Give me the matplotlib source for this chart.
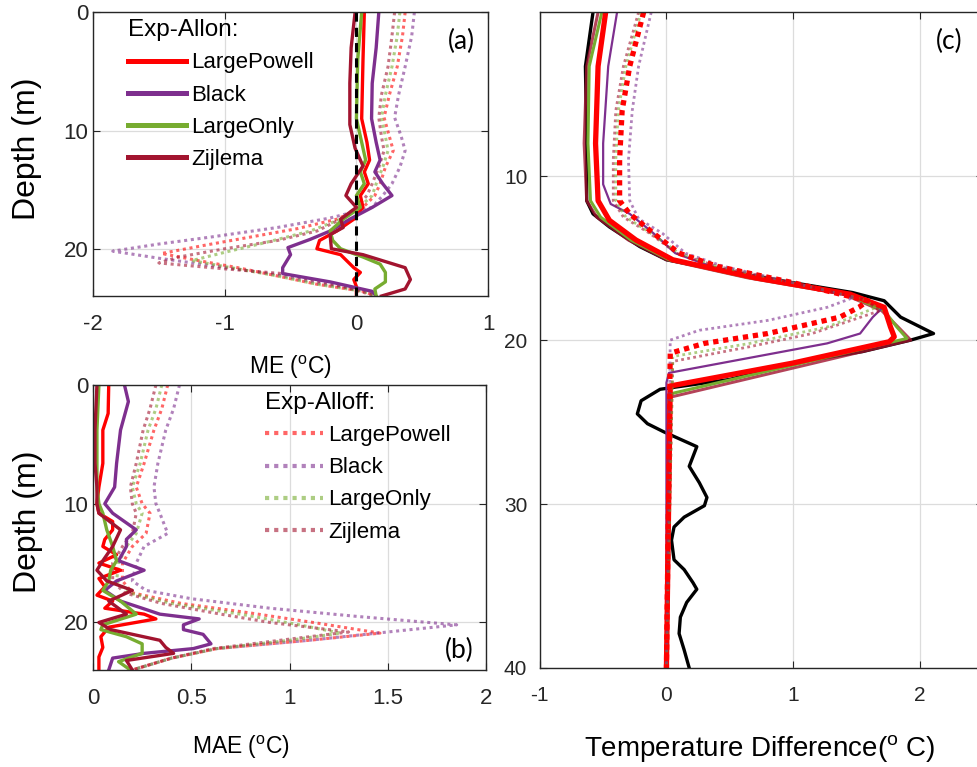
import matplotlib
matplotlib.use("Agg")
import matplotlib.pyplot as plt
from matplotlib.lines import Line2D

plt.rcParams['font.family'] = ['Liberation Sans', 'DejaVu Sans']
plt.rcParams['axes.unicode_minus'] = False
plt.rcParams['mathtext.fontset'] = 'custom'
plt.rcParams['mathtext.rm'] = 'Liberation Sans'

schemes = ['LargePowell', 'Black', 'LargeOnly', 'Zijlema']
colors = ['#FF0000', '#7E2F8E', '#77AC30', '#A2142F']

# ---- panel (a): mean error, Exp-Allon (solid) ----
me_on_lp_d = [0, 4, 9, 11, 12.5, 13.5, 14.5, 15.5, 16.5, 17.5, 18.5, 19.3, 20, 20.5, 21.6, 22, 22.6, 23.2, 24]
me_on_lp = [0.06, 0.05, 0.04, 0.08, 0.10, 0.06, 0.09, 0.03, 0.05, -0.02, -0.15, -0.28, -0.3, -0.12, -0.02, 0.03, -0.02, 0.0, 0.0]
me_on_bl_d = [0, 3, 6, 9, 11, 12.5, 13.5, 14.5, 15.5, 16.5, 17.5, 18.5, 19.2, 19.9, 20.5, 21.6, 22.1, 22.8, 23.6, 24]
me_on_bl = [0.17, 0.15, 0.12, 0.115, 0.15, 0.18, 0.14, 0.2, 0.27, 0.12, -0.05, -0.2, -0.35, -0.52, -0.5, -0.56, -0.56, -0.2, 0.12, 0.15]
me_on_lo_d = [0, 4, 9, 11.5, 12.5, 13.5, 14.5, 15.5, 16.5, 17.5, 18.5, 19.3, 20, 20.7, 21.3, 22, 22.8, 23.4, 24]
me_on_lo = [0.04, 0.01, 0.0, 0.05, 0.07, 0.03, 0.06, 0.0, 0.03, -0.1, -0.2, -0.18, -0.12, 0.05, 0.18, 0.22, 0.22, 0.14, 0.15]
me_on_zi_d = [0, 3, 6, 9.5, 11.5, 13, 14.5, 15.5, 16.5, 17.5, 18.2, 18.8, 20, 20.5, 21.6, 22.6, 23.4, 24]
me_on_zi = [-0.01, -0.04, -0.05, -0.05, -0.01, 0.05, -0.04, -0.08, 0.0, -0.12, -0.1, -0.2, -0.19, 0.05, 0.37, 0.41, 0.37, 0.19]

# ---- panel (a): mean error, Exp-Alloff (dotted) ----
me_off_lp_d = [0, 2, 4.6, 7, 8.9, 10.5, 11.7, 13.1, 14.5, 15.5, 16.5, 17.5, 18.3, 19, 19.7, 20.4, 21, 21.6, 22.3, 23, 23.6, 24]
me_off_lp = [0.37, 0.35, 0.31, 0.25, 0.21, 0.25, 0.28, 0.22, 0.18, 0.14, 0.05, -0.15, -0.45, -0.8, -1.15, -1.48, -1.2, -0.9, -0.6, -0.3, 0.05, 0.15]
me_off_bl_d = [0, 2, 4.6, 7, 8.9, 10.5, 11.7, 13.1, 14.5, 15.5, 16.5, 17.4, 18.2, 19, 19.6, 20.2, 20.8, 21.5, 22.2, 23, 23.6, 24]
me_off_bl = [0.44, 0.42, 0.37, 0.32, 0.29, 0.34, 0.37, 0.33, 0.27, 0.2, 0.12, -0.2, -0.6, -1.1, -1.5, -1.85, -1.5, -1.05, -0.6, -0.25, 0.1, 0.15]
me_off_lo_d = [0, 2, 4.6, 7, 8.9, 10.5, 11.7, 13.1, 14.5, 15.5, 16.5, 17.5, 18.5, 19.5, 20.3, 21, 21.6, 22.3, 23, 23.6, 24]
me_off_lo = [0.33, 0.31, 0.27, 0.22, 0.19, 0.22, 0.24, 0.2, 0.15, 0.12, 0.02, -0.12, -0.35, -0.7, -1.0, -1.25, -0.95, -0.6, -0.3, 0.05, 0.15]
me_off_zi_d = [0, 2, 4.6, 7, 8.9, 10.5, 11.7, 13.1, 14.5, 15.5, 16.5, 17.5, 18.5, 19.3, 20, 20.7, 21.2, 21.7, 22.1, 22.6, 23.2, 24]
me_off_zi = [0.29, 0.27, 0.24, 0.19, 0.17, 0.19, 0.21, 0.17, 0.12, 0.08, 0.0, -0.12, -0.3, -0.6, -1.0, -1.35, -1.5, -1.0, -0.56, -0.35, -0.1, 0.15]

# ---- panel (b): mean absolute error, Exp-Allon (solid) ----
mae_on_lp_d = [0, 2.4, 3.8, 6.6, 8.6, 10, 10.8, 11.5, 12.2, 13, 13.6, 14.3, 15, 15.6, 16.3, 17, 17.7, 18.2, 18.8, 19.3, 19.7, 20.4, 21.2, 22.1, 22.9, 24]
mae_on_lp = [0.08, 0.077, 0.05, 0.05, 0.03, 0.02, 0.03, 0.1, 0.1, 0.06, 0.05, 0.12, 0.03, 0.14, 0.03, 0.06, 0.02, 0.1, 0.06, 0.26, 0.32, 0.08, 0.04, 0.05, 0.03, 0.03]
mae_on_bl_d = [0, 1.4, 3.8, 6.6, 8.6, 10, 10.8, 12.2, 13, 13.6, 14.8, 15.6, 16.5, 17.3, 18.2, 18.8, 19.3, 19.7, 20.2, 20.6, 21, 21.8, 22.2, 22.6, 23, 24]
mae_on_bl = [0.16, 0.18, 0.14, 0.12, 0.11, 0.06, 0.1, 0.22, 0.17, 0.17, 0.13, 0.26, 0.12, 0.06, 0.14, 0.25, 0.34, 0.54, 0.46, 0.46, 0.56, 0.6, 0.51, 0.26, 0.1, 0.08]
mae_on_lo_d = [0, 3.8, 6.6, 8.6, 10, 10.8, 12.2, 13.6, 14.8, 15.6, 16.5, 17.3, 18.2, 19.3, 20.2, 20.6, 21.2, 21.8, 22.6, 23.3, 24]
mae_on_lo = [0.03, 0.02, 0.02, 0.02, 0.03, 0.05, 0.07, 0.1, 0.12, 0.09, 0.08, 0.05, 0.14, 0.22, 0.05, 0.04, 0.17, 0.25, 0.25, 0.13, 0.19]
mae_on_zi_d = [0, 3.8, 6.6, 8.6, 10, 10.8, 12.2, 13.6, 14.8, 15.6, 16.5, 17.3, 18.2, 19.3, 20, 20.6, 21.5, 22.1, 22.6, 23.2, 24]
mae_on_zi = [0.02, 0.01, 0.01, 0.02, 0.02, 0.03, 0.14, 0.1, 0.05, 0.02, 0.07, 0.2, 0.08, 0.17, 0.03, 0.09, 0.34, 0.37, 0.41, 0.17, 0.2]

# ---- panel (b): mean absolute error, Exp-Alloff (dotted) ----
mae_off_lp_d = [0, 2, 3.8, 6.6, 8.6, 10, 10.8, 12.5, 13.6, 15, 16.5, 17.5, 18.4, 19.2, 20, 20.9, 21.5, 22.2, 23, 24]
mae_off_lp = [0.38, 0.35, 0.31, 0.26, 0.22, 0.25, 0.29, 0.27, 0.2, 0.15, 0.15, 0.2, 0.45, 0.8, 1.12, 1.46, 1.1, 0.63, 0.4, 0.2]
mae_off_bl_d = [0, 2, 3.8, 6.6, 8.6, 10, 10.8, 12.5, 13.6, 15, 16.5, 17.3, 18, 18.8, 19.5, 20.2, 20.8, 21.5, 22.2, 23, 24]
mae_off_bl = [0.44, 0.41, 0.37, 0.33, 0.31, 0.32, 0.34, 0.38, 0.26, 0.22, 0.2, 0.27, 0.5, 0.9, 1.35, 1.85, 1.5, 1.1, 0.63, 0.4, 0.2]
mae_off_lo_d = [0, 2, 3.8, 6.6, 8.6, 10, 10.8, 12.5, 13.6, 15, 16.5, 17.5, 18.4, 19.3, 20.2, 20.9, 21.5, 22.2, 23, 24]
mae_off_lo = [0.35, 0.32, 0.28, 0.24, 0.2, 0.22, 0.25, 0.22, 0.17, 0.13, 0.12, 0.18, 0.4, 0.75, 1.05, 1.26, 1.0, 0.63, 0.4, 0.2]
mae_off_zi_d = [0, 2, 3.8, 6.6, 8.6, 10, 10.8, 12.5, 13.6, 15, 16.5, 17.5, 18.4, 19.3, 20, 20.8, 21.4, 22.2, 23, 24]
mae_off_zi = [0.32, 0.29, 0.255, 0.22, 0.19, 0.2, 0.22, 0.2, 0.15, 0.1, 0.1, 0.16, 0.35, 0.65, 0.9, 1.3, 1.0, 0.61, 0.4, 0.2]

# ---- panel (c): temperature difference profiles ----
obs_d = [0, 3.3, 8, 11.5, 12.3, 13.1, 14.3, 15.1, 15.7, 16.5, 17.1, 17.6, 18.6, 19.6, 20.0, 20.7, 21.4, 22.4, 23.0, 23.7, 24.5,
         25.1, 25.6, 26.5, 27.7, 28.7, 29.6, 30.1, 30.8, 31.4, 32.2, 33.4, 34.0, 34.8, 35.2, 36.0, 36.9, 37.9, 38.9, 40]
obs_t = [-0.58, -0.64, -0.63, -0.63, -0.58, -0.45, -0.21, 0.0, 0.4, 1.0, 1.47, 1.72, 1.85, 2.11, 1.93, 1.55, 1.0, 0.5, -0.05, -0.2, -0.23,
         -0.15, -0.02, 0.24, 0.18, 0.26, 0.32, 0.3, 0.14, 0.06, 0.04, 0.06, 0.14, 0.21, 0.24, 0.16, 0.11, 0.1, 0.14, 0.18]

td_on_lp_d = [0, 3.3, 8, 11.5, 12.7, 13.9, 15.1, 16.2, 17.2, 18.0, 19.2, 19.8, 20.1, 21.4, 22.8, 40]
td_on_lp = [-0.48, -0.54, -0.56, -0.54, -0.45, -0.24, 0.05, 0.7, 1.45, 1.72, 1.77, 1.8, 1.76, 1.0, 0.03, 0.0]
td_on_bl_d = [0, 3.3, 8, 10.5, 11.7, 12.3, 13.5, 14.7, 15.5, 16.5, 17.3, 18.0, 18.6, 19.6, 20.2, 22.0, 22.6, 40]
td_on_bl = [-0.39, -0.46, -0.5, -0.5, -0.44, -0.29, -0.1, 0.07, 0.35, 0.95, 1.45, 1.71, 1.63, 1.53, 1.27, 0.02, 0.0, 0.0]
td_on_lo_d = [0, 3.3, 8, 11.5, 12.5, 13.9, 15.1, 16.2, 17.2, 18.2, 19.2, 19.9, 23.3, 40]
td_on_lo = [-0.51, -0.61, -0.62, -0.6, -0.52, -0.28, 0.02, 0.66, 1.42, 1.72, 1.82, 1.9, 0.02, 0.0]
td_on_zi_d = [0, 3.3, 8, 11.5, 12.5, 13.9, 15.1, 16.2, 17.2, 18.2, 19.2, 20.0, 23.5, 40]
td_on_zi = [-0.54, -0.63, -0.65, -0.63, -0.55, -0.3, 0.0, 0.64, 1.4, 1.7, 1.83, 1.93, 0.02, 0.0]

td_off_lp_d = [0, 3.3, 6, 9, 11.5, 12.3, 13.5, 14.7, 15.5, 16.5, 17.6, 18.0, 18.6, 19.6, 20.2, 20.8, 40]
td_off_lp = [-0.18, -0.29, -0.35, -0.37, -0.37, -0.29, -0.1, 0.1, 0.4, 1.0, 1.59, 1.52, 1.37, 0.8, 0.3, 0.03, 0.0]
td_off_bl_d = [0, 3.3, 6, 9, 11.5, 12.6, 13.5, 14.7, 15.5, 16.5, 17.4, 18.0, 18.8, 19.4, 20.0, 40]
td_off_bl = [-0.12, -0.22, -0.27, -0.3, -0.29, -0.22, -0.03, 0.15, 0.45, 1.0, 1.48, 1.27, 0.8, 0.26, 0.03, 0.0]
td_off_lo_d = [0, 3.3, 6, 9, 11.5, 12.5, 13.5, 14.7, 15.5, 16.5, 17.5, 18.0, 19.2, 20.2, 21.0, 40]
td_off_lo = [-0.2, -0.32, -0.38, -0.4, -0.4, -0.32, -0.12, 0.1, 0.4, 1.0, 1.55, 1.66, 1.27, 0.66, 0.05, 0.0]
td_off_zi_d = [0, 3.3, 6, 9, 11.5, 12.5, 13.5, 14.7, 15.5, 16.5, 17.5, 18.2, 19.6, 20.4, 21.3, 40]
td_off_zi = [-0.22, -0.34, -0.4, -0.42, -0.42, -0.34, -0.13, 0.08, 0.4, 1.0, 1.55, 1.69, 1.15, 0.66, 0.05, 0.0]


def style_axes(ax, fs, ypad):
    ax.grid(True, color='#dcdcdc', linewidth=0.9)
    ax.set_axisbelow(True)
    ax.tick_params(direction='in', top=True, right=True, length=5,
                   labelsize=fs, colors='#262626')
    ax.tick_params(axis='x', pad=13)
    ax.tick_params(axis='y', pad=ypad)
    for s in ax.spines.values():
        s.set_color('#262626')
        s.set_linewidth(1.0)
    ax.invert_yaxis()


fig = plt.figure(figsize=(9.78, 7.67), dpi=100)
ax_a = fig.add_axes([0.0951, 0.614, 0.404, 0.370])
ax_b = fig.add_axes([0.0951, 0.1265, 0.402, 0.3716])
ax_c = fig.add_axes([0.552, 0.1291, 0.453, 0.855])

dot = (0, (1.0, 1.2))
leg_kw = dict(frameon=False, fontsize=16, title_fontsize=17.5, alignment='left', handlelength=2.6,
              labelspacing=0.5, handletextpad=0.25, borderpad=0.0, borderaxespad=0.0, loc='upper left')

# panel (a)
on_a = [(me_on_lp_d, me_on_lp), (me_on_bl_d, me_on_bl), (me_on_lo_d, me_on_lo), (me_on_zi_d, me_on_zi)]
off_a = [(me_off_lp_d, me_off_lp), (me_off_bl_d, me_off_bl), (me_off_lo_d, me_off_lo), (me_off_zi_d, me_off_zi)]
for (d, v), c in zip(off_a, colors):
    ax_a.plot(v, d, color=c, alpha=0.6, lw=2.2, ls=dot)
for (d, v), c in zip(on_a, colors):
    ax_a.plot(v, d, color=c, lw=2.4)
ax_a.plot([0, 0], [0, 24], color='black', lw=2.2, ls=(0, (3, 2)))
ax_a.set_xlim(-2, 1)
ax_a.set_ylim(0, 24)
ax_a.set_xticks([-2, -1, 0, 1])
ax_a.set_yticks([0, 10, 20])
style_axes(ax_a, 16, 3.5)
ax_a.set_xlabel('ME ($^{\\rm o}$C)', fontsize=16.5)
ax_a.xaxis.set_label_coords(0.5, -0.205)
ax_a.set_ylabel('Depth (m)', fontsize=23)
ax_a.yaxis.set_label_coords(-0.128, 0.52)
ax_a.text(0.968, 0.94, '(a)', transform=ax_a.transAxes, ha='right', va='top', fontsize=19, family='Lato')
handles_on = [Line2D([], [], color=c, lw=3.6) for c in colors]
ax_a.legend(handles_on, schemes, title='Exp-Allon:', bbox_to_anchor=(0.089, 0.975), **leg_kw)

# panel (b)
on_b = [(mae_on_lp_d, mae_on_lp), (mae_on_bl_d, mae_on_bl), (mae_on_lo_d, mae_on_lo), (mae_on_zi_d, mae_on_zi)]
off_b = [(mae_off_lp_d, mae_off_lp), (mae_off_bl_d, mae_off_bl), (mae_off_lo_d, mae_off_lo), (mae_off_zi_d, mae_off_zi)]
for (d, v), c in zip(off_b, colors):
    ax_b.plot(v, d, color=c, alpha=0.6, lw=2.2, ls=dot)
for (d, v), c in zip(on_b, colors):
    ax_b.plot(v, d, color=c, lw=2.4)
ax_b.set_xlim(0, 2)
ax_b.set_ylim(0, 24)
ax_b.set_xticks([0, 0.5, 1, 1.5, 2])
ax_b.set_xticklabels(['0', '0.5', '1', '1.5', '2'])
ax_b.set_yticks([0, 10, 20])
style_axes(ax_b, 16, 3.5)
ax_b.set_xlabel('MAE ($^{\\rm o}$C)', fontsize=16.5)
ax_b.xaxis.set_label_coords(0.377, -0.225)
ax_b.set_ylabel('Depth (m)', fontsize=23)
ax_b.yaxis.set_label_coords(-0.128, 0.52)
ax_b.text(0.968, 0.025, '(b)', transform=ax_b.transAxes, ha='right', va='bottom', fontsize=19, family='Lato')
handles_off = [Line2D([], [], color=c, alpha=0.6, lw=3.0, ls=dot) for c in colors]
ax_b.legend(handles_off, schemes, title='Exp-Alloff:', bbox_to_anchor=(0.438, 0.975), **leg_kw)

# panel (c)
on_c = [(td_on_lp_d, td_on_lp), (td_on_bl_d, td_on_bl), (td_on_lo_d, td_on_lo), (td_on_zi_d, td_on_zi)]
off_c = [(td_off_lp_d, td_off_lp), (td_off_bl_d, td_off_bl), (td_off_lo_d, td_off_lo), (td_off_zi_d, td_off_zi)]
ax_c.plot(obs_t, obs_d, color='black', lw=2.4)
on_lw = [3.8, 1.6, 2.2, 2.2]
for (d, v), c, lw in zip(on_c[::-1], colors[::-1], on_lw[::-1]):
    ax_c.plot(v, d, color=c, lw=lw, alpha=1.0 if c != '#A2142F' else 0.8)
for (d, v), c in list(zip(off_c, colors))[1:][::-1]:
    ax_c.plot(v, d, color=c, alpha=0.6, lw=2.0, ls=dot)
ax_c.plot(td_off_lp, td_off_lp_d, color=colors[0], lw=3.8, ls=(0, (1.0, 0.9)))
ax_c.set_xlim(-1, 2.5)
ax_c.set_ylim(0, 40)
ax_c.set_xticks([-1, 0, 1, 2])
ax_c.set_yticks([10, 20, 30, 40])
style_axes(ax_c, 15, 9)
ax_c.set_xlabel('Temperature Difference($^{\\rm o}$ C)', fontsize=20)
ax_c.xaxis.set_label_coords(0.497, -0.1)
ax_c.text(0.955, 0.975, '(c)', transform=ax_c.transAxes, ha='right', va='top', fontsize=19, family='Lato')

fig.savefig('out.png', dpi=100)
